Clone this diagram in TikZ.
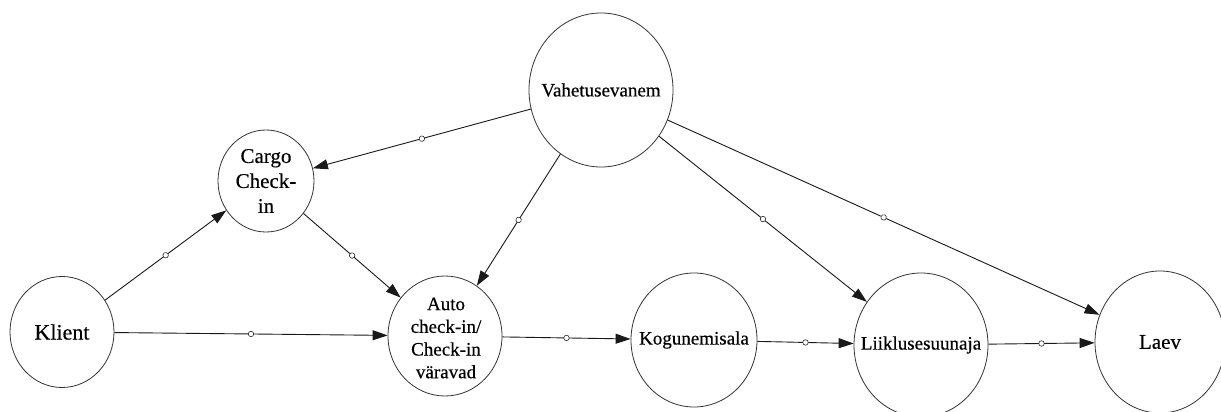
\documentclass[tikz,border=0pt]{standalone}
\usepackage{fontspec}
\setmainfont{Liberation Serif}[FakeBold=0.4]
\usetikzlibrary{shapes.geometric,arrows.meta}
\tikzset{
  ent/.style={ellipse, draw=black!80, line width=0.8pt, fill=white, inner sep=0pt},
  lbl/.style={align=center, inner sep=0pt, text=black},
  conn/.style={draw=black!90, line width=0.9pt, -{Triangle[length=15pt,width=10pt]}},
  mk/.style={circle, draw=black!85, fill=white, line width=0.6pt, inner sep=0pt, minimum size=5.5pt, sloped, pos=0.5}
}
\begin{document}
\begin{tikzpicture}[x=1pt,y=-1pt]
\useasboundingbox (0,0) rectangle (1221,412);
\clip (0,0) rectangle (1221,412);
\fill[white] (0,0) rectangle (1221,412);
\node[ent, minimum width=104pt, minimum height=111pt] (klient) at (62,332) {};
\node[ent, minimum width=96pt, minimum height=102pt] (cargo) at (266,181) {};
\node[ent, minimum width=114pt, minimum height=120pt] (auto) at (445,336) {};
\node[ent, minimum width=144pt, minimum height=154pt] (vahe) at (601,90) {};
\node[ent, minimum width=126pt, minimum height=134pt] (kog) at (694,340) {};
\node[ent, minimum width=134pt, minimum height=144pt] (liik) at (921,345) {};
\node[ent, minimum width=130pt, minimum height=142pt] (laev) at (1160,342) {};

\node[lbl, font=\fontsize{22}{25}\selectfont] (tklient) at (klient.center) {Klient};
\node[lbl, font=\fontsize{21}{25}\selectfont] (tcargo) at (cargo.center) {Cargo\\Check-\\in};
\node[lbl, font=\fontsize{19}{22.7}\selectfont] (tauto) at (446,338) {Auto\\check-in/\\Check-in\\väravad};
\node[lbl, font=\fontsize{19}{22}\selectfont] (tvahe) at (vahe.center) {Vahetusevanem};
\node[lbl, font=\fontsize{19}{22}\selectfont] (tkog) at (kog.center) {Kogunemisala};
\node[lbl, font=\fontsize{19}{22}\selectfont] (tliik) at (liik.center) {Liiklusesuunaja};
\node[lbl, font=\fontsize{21}{24}\selectfont] (tlaev) at (laev.center) {Laev};

\path[conn] (klient) -- node[mk] (m1) {} (cargo);
\path[conn] (klient) -- node[mk] (m2) {} (auto);
\path[conn] (cargo) -- node[mk] (m3) {} (auto);
\path[conn] (vahe) -- node[mk] (m4) {} (cargo);
\path[conn] (vahe) -- node[mk] (m5) {} (auto);
\path[conn] (auto) -- node[mk] (m6) {} (kog);
\path[conn] (kog) -- node[mk] (m7) {} (liik);
\path[conn] (liik) -- node[mk] (m8) {} (laev);
\path[conn] (vahe) -- node[mk] (m9) {} (liik);
\path[conn] (vahe) -- node[mk] (m10) {} (laev);
\end{tikzpicture}
\end{document}
